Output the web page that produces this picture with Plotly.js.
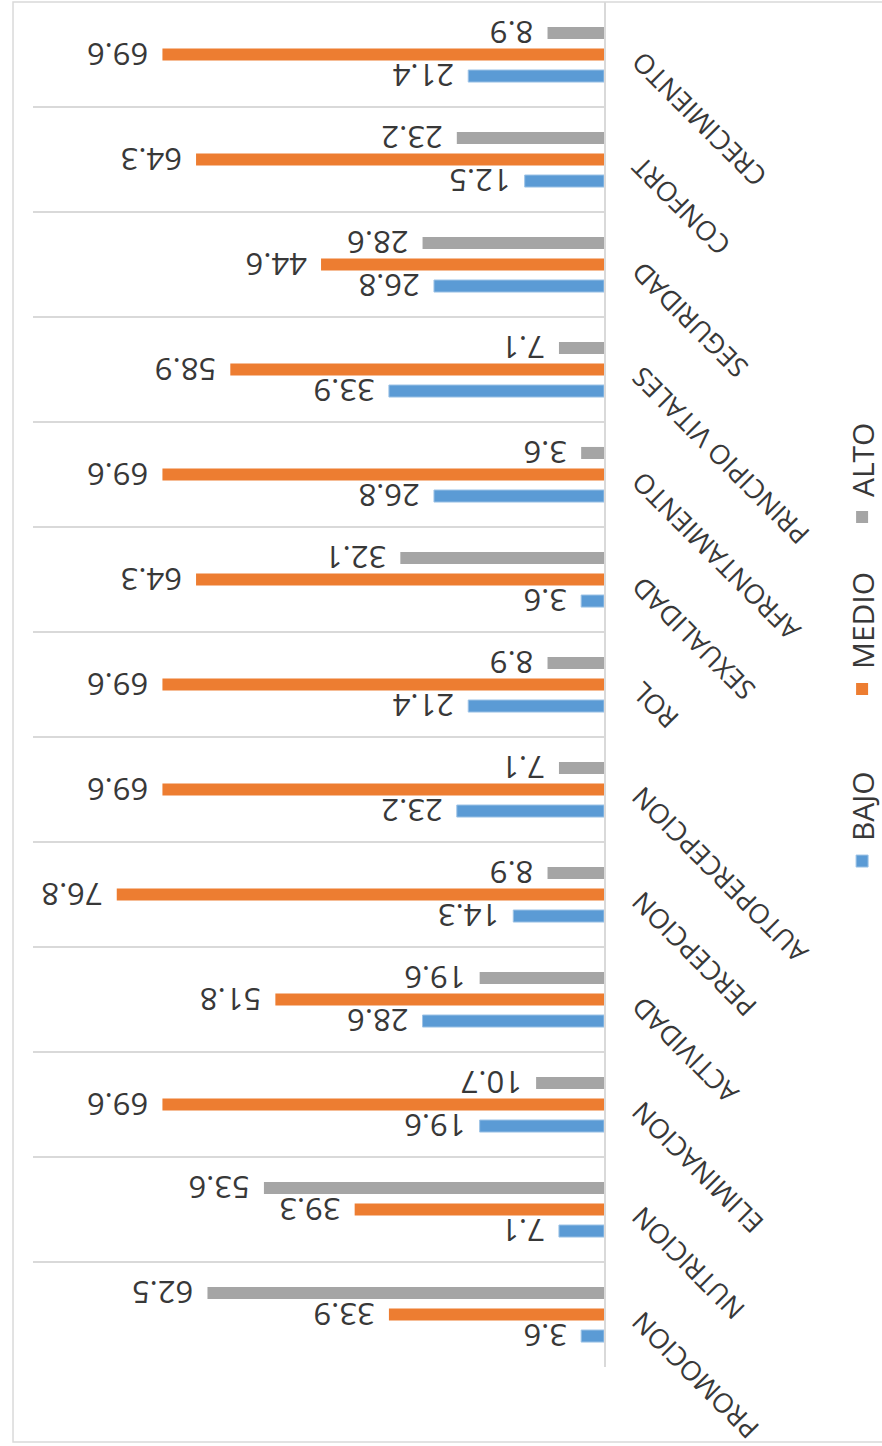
<!DOCTYPE html>
<html><head><meta charset="utf-8">
<script src="https://cdn.plot.ly/plotly-3.0.1.min.js"></script>
<style>
html,body{margin:0;padding:0;width:882px;height:1446px;overflow:hidden;background:#fff;}
#wrap{position:absolute;left:0;top:0;width:1446px;height:900px;transform-origin:0 0;transform:translateY(1446px) rotate(-90deg);}
#chart{width:1446px;height:900px;}
</style></head><body>
<div id="wrap"><div id="chart"></div></div>
<script>
const categories = ['PROMOCION','NUTRICION','ELIMINACION','ACTIVIDAD','PERCEPCION','AUTOPERCEPCION','ROL','SEXUALIDAD','AFRONTAMIENTO','PRINCIPIO VITALES','SEGURIDAD','CONFORT','CRECIMIENTO'];
const bajo  = [3.6, 7.1, 19.6, 28.6, 14.3, 23.2, 21.4, 3.6, 26.8, 33.9, 26.8, 12.5, 21.4];
const medio = [33.9, 39.3, 69.6, 51.8, 76.8, 69.6, 69.6, 64.3, 69.6, 58.9, 44.6, 64.3, 69.6];
const alto  = [62.5, 53.6, 10.7, 19.6, 8.9, 7.1, 8.9, 32.1, 3.6, 7.1, 28.6, 23.2, 8.9];
const seriesNames = ['BAJO','MEDIO','ALTO'];
const seriesValues = [bajo, medio, alto];
const seriesColors = ['#5B9BD5','#ED7D31','#A5A5A5'];
const FONT = 'Open Sans, Noto Sans, sans-serif';
const TXT = '#383838';

const traces = seriesNames.map((n, i) => ({
  type: 'bar',
  name: n,
  x: categories,
  y: seriesValues[i],
  marker: {color: seriesColors[i], line: {width: i === 0 ? 1 : 0, color: '#9DC3E6'}},
  text: seriesValues[i].map(v => '\u00a0\u200a' + v.toFixed(1)),
  textposition: 'outside',
  textangle: -90,
  constraintext: 'none',
  cliponaxis: false,
  textfont: {family: FONT, size: 31, color: TXT},
  hoverinfo: 'none'
}));

const layout = {
  width: 1446, height: 900,
  margin: {l: 79, r: 2, t: 33, b: 296, pad: 0},
  paper_bgcolor: '#ffffff', plot_bgcolor: '#ffffff',
  barmode: 'group', bargap: 0.385, bargroupgap: 0.44,
  font: {family: FONT, color: TXT},
  xaxis: {
    type: 'category', tickson: 'boundaries', showgrid: true, gridcolor: '#D9D9D9', gridwidth: 1.5,
    showline: true, linecolor: '#D9D9D9', linewidth: 1.5, ticks: '', tickangle: -45,
    tickmode: 'array', tickvals: categories, ticktext: categories.map(c => c + '\u00a0'),
    ticklabelstandoff: 5,
    tickfont: {family: FONT, size: 27, color: TXT}, automargin: false
  },
  yaxis: {range: [0, 90], showticklabels: false, showgrid: false, zeroline: false, showline: false, fixedrange: true},
  showlegend: true,
  legend: {orientation: 'h', x: 0.356, xanchor: 'left', y: -0.452, yanchor: 'middle', entrywidth: 127,
           font: {family: FONT, size: 30, color: TXT}, bgcolor: 'rgba(0,0,0,0)'},
  shapes: [{type: 'rect', xref: 'paper', yref: 'paper', x0: -0.0549, x1: 1.0, y0: -0.6, y1: 1.035,
            line: {color: '#D9D9D9', width: 1.5}, fillcolor: 'rgba(0,0,0,0)', layer: 'below'}]
};

Plotly.newPlot('chart', traces, layout, {staticPlot: true, displayModeBar: false});
</script>
</body></html>
